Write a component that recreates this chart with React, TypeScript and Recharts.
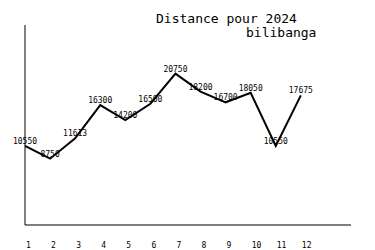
import React from 'react';
import { LineChart, Line, XAxis, YAxis, LabelList } from 'recharts';

const months = [1, 2, 3, 4, 5, 6, 7, 8, 9, 10, 11, 12];
const distances = [10550, 8750, 11613, 16300, 14200, 16500, 20750, 18200, 16700, 18050, 10550, 17675];
const titleLine1 = 'Distance pour 2024';
const titleLine2 = 'bilibanga';

const data = months.map((m, i) => ({ month: m, distance: distances[i] }));

const FONT = '"DejaVu Sans Mono", "Liberation Mono", monospace';

const XTick = (props: any) => {
  const { x, y, payload } = props;
  return (
    <text x={x + 1} y={y + 21} fontSize={8} fontFamily={FONT} fill="#000" textAnchor="start">
      {payload.value}
    </text>
  );
};

const PointLabel = (props: any) => {
  const { x, y, value } = props;
  return (
    <text x={x} y={y - 2} fontSize={8} fontFamily={FONT} fill="#000" textAnchor="middle">
      {value}
    </text>
  );
};

export default function App() {
  return (
    <div style={{ position: 'absolute', left: 0, top: 0, width: 375, height: 250, background: '#fff' }}>
      <LineChart
        width={375}
        height={250}
        data={data}
        margin={{ top: 25, right: 24, left: 15, bottom: 0 }}
      >
        <XAxis
          dataKey="month"
          type="number"
          domain={[1, 14]}
          ticks={months}
          height={25}
          tickLine={false}
          tickSize={0}
          axisLine={{ stroke: '#000', strokeWidth: 1 }}
          tick={<XTick />}
          interval={0}
          allowDataOverflow
        />
        <YAxis
          type="number"
          domain={[-600, 27600]}
          width={10}
          tick={false}
          tickLine={false}
          axisLine={{ stroke: '#000', strokeWidth: 1 }}
          allowDataOverflow
        />
        <Line
          type="linear"
          dataKey="distance"
          stroke="#000"
          strokeWidth={2}
          dot={false}
          activeDot={false}
          isAnimationActive={false}
        >
          <LabelList dataKey="distance" content={<PointLabel />} />
        </Line>
      </LineChart>
      <svg width={375} height={250} style={{ position: 'absolute', left: 0, top: 0, pointerEvents: 'none' }}>
        <text x={156} y={23} fontSize={13} fontFamily={FONT} fill="#000">{titleLine1}</text>
        <text x={246} y={37} fontSize={13} fontFamily={FONT} fill="#000">{titleLine2}</text>
      </svg>
    </div>
  );
}
